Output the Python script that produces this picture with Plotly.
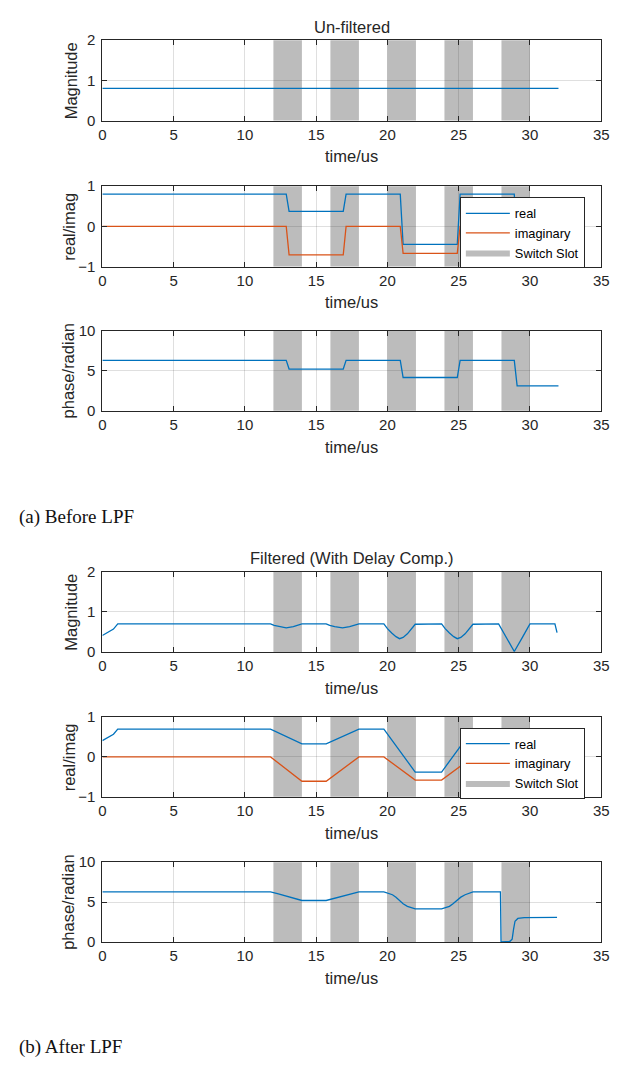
import plotly.graph_objects as go

# ---------------- data ----------------
slot_start = [12, 16, 20, 24, 28]
slot_end = [14, 18, 22, 26, 30]

x_ticks = [0, 5, 10, 15, 20, 25, 30, 35]
mag_ticks = [0, 1, 2]
ri_ticks = [-1, 0, 1]
ph_ticks = [0, 5, 10]

# Un-filtered
t_raw = [0, 12.9, 13.1, 16.9, 17.1, 20.9, 21.1, 24.9, 25.1, 28.9, 29.1, 32.0]
mag_raw = [0.8, 0.8, 0.8, 0.8, 0.8, 0.8, 0.8, 0.8, 0.8, 0.8, 0.8, 0.8]
real_raw = [0.8, 0.8, 0.37, 0.37, 0.8, 0.8, -0.45, -0.45, 0.8, 0.8, -0.8, -0.8]
imag_raw = [0, 0, -0.71, -0.71, 0, 0, -0.67, -0.67, 0, 0, 0.03, 0.03]
phase_raw = [6.28, 6.28, 5.2, 5.2, 6.28, 6.28, 4.15, 4.15, 6.28, 6.28, 3.1, 3.1]

# Filtered (with delay compensation)
t_fmag = [0, 0.78, 1.08, 11.8, 12.05, 12.4, 12.9, 13.4, 13.75, 14.0,
          15.7, 15.95, 16.3, 16.85, 17.35, 17.7, 18.0,
          19.75, 20.0, 20.3, 20.6, 20.85, 21.1, 21.4, 21.7, 21.95,
          23.8, 24.05, 24.35, 24.65, 24.9, 25.15, 25.45, 25.75, 26.0,
          27.8, 28.35, 28.9, 29.45, 30.0, 31.75, 31.9]
fmag = [0.41, 0.57, 0.7, 0.7, 0.66, 0.63, 0.6, 0.63, 0.66, 0.7,
        0.7, 0.66, 0.63, 0.6, 0.63, 0.66, 0.7,
        0.7, 0.58, 0.47, 0.38, 0.33, 0.36, 0.45, 0.57, 0.69,
        0.7, 0.58, 0.47, 0.38, 0.33, 0.36, 0.45, 0.57, 0.69,
        0.7, 0.35, 0.01, 0.35, 0.7, 0.7, 0.48]

t_fri = [0, 0.78, 1.08, 11.8, 14.0, 15.7, 18.0, 19.75, 21.95, 23.8, 26.0, 27.8, 30.0, 31.9]
freal = [0.41, 0.57, 0.7, 0.7, 0.33, 0.33, 0.7, 0.7, -0.38, -0.38, 0.7, 0.7, -0.7, -0.7]
fimag = [0, 0, 0, 0, -0.61, -0.61, 0, 0, -0.58, -0.58, 0, 0, 0.03, 0.03]

t_fph = [0, 11.8, 12.35, 12.9, 13.45, 14.0, 15.7, 16.25, 16.85, 17.45, 18.0,
         19.75, 20.05, 20.35, 20.6, 20.85, 21.1, 21.4, 21.7, 21.95,
         23.8, 24.05, 24.35, 24.6, 24.9, 25.15, 25.45, 25.75, 26.0,
         27.93, 27.97, 28.6, 28.75, 28.85, 28.95, 29.15, 29.6, 31.9]
fphase = [6.28, 6.28, 6.03, 5.75, 5.46, 5.2, 5.2, 5.46, 5.75, 6.03, 6.28,
          6.28, 6.14, 5.92, 5.62, 5.22, 4.8, 4.47, 4.28, 4.15,
          4.15, 4.28, 4.47, 4.8, 5.22, 5.62, 5.92, 6.14, 6.28,
          6.28, 0.02, 0.08, 0.35, 1.6, 2.6, 2.95, 3.05, 3.08]

# ---------------- style / layout ----------------
W, H = 621, 1071
BLUE = "#0072BD"
ORANGE = "#D95319"
SLOT = "#bcbcbc"
AX = "#262626"
GRID = "rgba(38,38,38,0.15)"
FONT = "Liberation Sans, Arial, Helvetica, sans-serif"
SERIF = "Liberation Serif, Times New Roman, serif"
LW = 1.3

x_left, x_right = 100.3, 609.0
panels = [(31.7, 113.3), (180.0, 261.7), (326.7, 408.3),
          (571.7, 653.3), (719.5, 800.5), (867.0, 948.0)]
yranges = [[0, 2], [-1, 1], [0, 10], [0, 2], [-1, 1], [0, 10]]
yticks = [mag_ticks, ri_ticks, ph_ticks, mag_ticks, ri_ticks, ph_ticks]
ylabels = ["Magnitude", "real/imag", "phase/radian"] * 2
ylabel_x = [68.3, 66.7, 65.0] * 2


def py(p):
    return 1 - p / H


def axn(prefix, n):
    return prefix if n == 1 else f"{prefix}{n}"


fig = go.Figure()


def add_line(n, x, y, color, name=None, legend="legend"):
    fig.add_trace(go.Scatter(
        x=x, y=y, mode="lines", name=name,
        line=dict(color=color, width=LW),
        xaxis=axn("x", n), yaxis=axn("y", n),
        showlegend=name is not None, legend=legend,
        hoverinfo="skip",
    ))


add_line(1, t_raw, mag_raw, BLUE)
add_line(2, t_raw, real_raw, BLUE, "real", "legend")
add_line(2, t_raw, imag_raw, ORANGE, "imaginary", "legend")
add_line(3, t_raw, phase_raw, BLUE)
add_line(4, t_fmag, fmag, BLUE)
add_line(5, t_fri, freal, BLUE, "real", "legend2")
add_line(5, t_fri, fimag, ORANGE, "imaginary", "legend2")
add_line(6, t_fph, fphase, BLUE)

# legend entries for the switch slots (the slots themselves are drawn as shapes)
for n, leg in ((2, "legend"), (5, "legend2")):
    fig.add_trace(go.Scatter(
        x=[None], y=[None], mode="lines", name="Switch Slot",
        fill="toself", fillcolor=SLOT, line=dict(color=SLOT, width=0),
        xaxis=axn("x", n), yaxis=axn("y", n), legend=leg, hoverinfo="skip"))

shapes = []
for n in range(1, 7):
    for s0, s1 in zip(slot_start, slot_end):
        shapes.append(dict(type="rect", xref=axn("x", n),
                           yref=axn("y", n) + " domain",
                           x0=s0, x1=s1, y0=0, y1=1,
                           fillcolor=SLOT, line=dict(width=0), layer="below"))

layout = dict(
    width=W, height=H,
    margin=dict(l=0, r=0, t=0, b=0),
    paper_bgcolor="white", plot_bgcolor="white",
    font=dict(family=FONT, color=AX, size=15),
    shapes=shapes,
)

for n in range(1, 7):
    top, bot = panels[n - 1]
    axcommon = dict(
        ticks="inside", ticklen=5, tickwidth=1, tickcolor=AX,
        showline=True, linecolor=AX, linewidth=1, mirror="allticks",
        showgrid=True, gridcolor=GRID, gridwidth=1, zeroline=False,
        tickfont=dict(family=FONT, size=15, color=AX), fixedrange=True,
    )
    layout[axn("xaxis", n)] = dict(
        axcommon, domain=[x_left / W, x_right / W], range=[0, 35],
        tickvals=x_ticks, anchor=axn("y", n))
    layout[axn("yaxis", n)] = dict(
        axcommon, domain=[py(bot), py(top)], range=yranges[n - 1],
        tickvals=yticks[n - 1], anchor=axn("x", n), ticklabelstandoff=3)

leg_common = dict(
    xanchor="right", yanchor="top", x=592.3 / W,
    bgcolor="white", bordercolor=AX, borderwidth=1,
    font=dict(family=FONT, size=12.8, color="black"),
    itemwidth=44, tracegroupgap=0,
)
layout["legend"] = dict(leg_common, y=py(191.5))
layout["legend2"] = dict(leg_common, y=py(730.5))

ann = []
for n in range(1, 7):
    top, bot = panels[n - 1]
    ann.append(dict(text="time/us", xref="paper", yref="paper",
                    x=(x_left + x_right) / 2 / W, y=py(bot + 36.5),
                    xanchor="center", yanchor="middle", showarrow=False,
                    font=dict(family=FONT, size=16.5, color=AX)))
    ann.append(dict(text=ylabels[n - 1], xref="paper", yref="paper",
                    x=ylabel_x[n - 1] / W, y=py((top + bot) / 2),
                    xanchor="center", yanchor="middle", textangle=-90,
                    showarrow=False,
                    font=dict(family=FONT, size=16.5, color=AX)))

ann.append(dict(text="Un-filtered", xref="paper", yref="paper",
                x=(x_left + x_right) / 2 / W, y=py(18.3),
                xanchor="center", yanchor="middle", showarrow=False,
                font=dict(family=FONT, size=16.5, color=AX)))
ann.append(dict(text="Filtered (With Delay Comp.)", xref="paper", yref="paper",
                x=(x_left + x_right) / 2 / W, y=py(557.7),
                xanchor="center", yanchor="middle", showarrow=False,
                font=dict(family=FONT, size=16.5, color=AX)))
ann.append(dict(text="(a) Before LPF", xref="paper", yref="paper",
                x=13.3 / W, y=py(516.7), xanchor="left", yanchor="middle",
                showarrow=False, font=dict(family=SERIF, size=19, color="#111111")))
ann.append(dict(text="(b) After LPF", xref="paper", yref="paper",
                x=13.3 / W, y=py(1055), xanchor="left", yanchor="middle",
                showarrow=False, font=dict(family=SERIF, size=19, color="#111111")))
layout["annotations"] = ann

fig.update_layout(**layout)
fig.write_html(
    "out.html",
    config={"displayModeBar": False, "staticPlot": True},
    post_script="document.body.style.margin='0px';"
                "document.body.style.overflow='hidden';",
)
